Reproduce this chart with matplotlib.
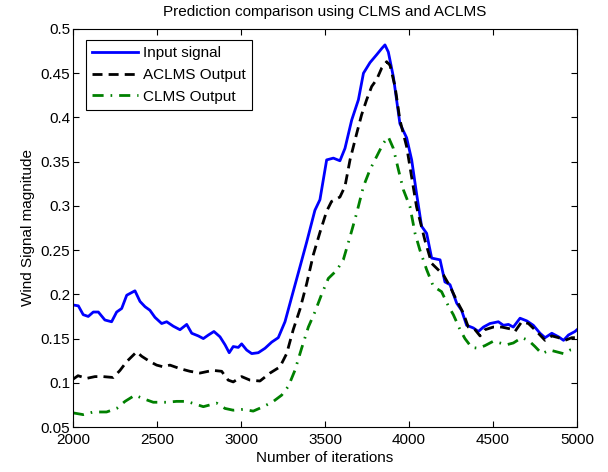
import matplotlib
matplotlib.use("Agg")
import numpy as np
from matplotlib import pyplot as plt

# values
input_x = [2000, 2032, 2061, 2091, 2121, 2151, 2190, 2230, 2260, 2290, 2320, 2369,
           2399, 2429, 2458, 2488, 2528, 2558, 2597, 2637, 2677, 2707, 2746, 2776,
           2806, 2839, 2875, 2905, 2930, 2954, 2984, 3004, 3034, 3064, 3103, 3143,
           3183, 3222, 3262, 3302, 3351, 3391, 3440, 3470, 3510, 3550, 3589, 3619,
           3659, 3699, 3729, 3768, 3808, 3838, 3857, 3877, 3907, 3946, 3986, 4016,
           4045, 4075, 4105, 4135, 4185, 4214, 4244, 4284, 4313, 4343, 4383, 4413,
           4443, 4482, 4532, 4562, 4592, 4621, 4661, 4701, 4740, 4780, 4810, 4850,
           4890, 4920, 4949, 4988, 5000]
input_y = [0.188, 0.187, 0.177, 0.175, 0.180, 0.180, 0.171, 0.169, 0.180, 0.184, 0.199, 0.204,
           0.192, 0.186, 0.182, 0.174, 0.167, 0.169, 0.164, 0.160, 0.166, 0.156, 0.153, 0.150,
           0.154, 0.158, 0.152, 0.143, 0.134, 0.141, 0.140, 0.144, 0.137, 0.133, 0.134, 0.139,
           0.146, 0.151, 0.169, 0.197, 0.231, 0.259, 0.295, 0.307, 0.352, 0.354, 0.351, 0.365,
           0.397, 0.420, 0.450, 0.462, 0.471, 0.478, 0.482, 0.474, 0.446, 0.393, 0.377, 0.352,
           0.314, 0.277, 0.269, 0.241, 0.239, 0.214, 0.211, 0.190, 0.182, 0.165, 0.162, 0.158,
           0.163, 0.167, 0.169, 0.165, 0.166, 0.163, 0.173, 0.170, 0.165, 0.156, 0.151, 0.156,
           0.152, 0.148, 0.154, 0.158, 0.160]

aclms_x = [2000, 2030, 2081, 2131, 2180, 2240, 2280, 2320, 2379, 2409, 2458, 2498,
           2538, 2577, 2637, 2696, 2756, 2806, 2835, 2885, 2924, 2954, 3004, 3054,
           3113, 3173, 3232, 3272, 3311, 3351, 3391, 3431, 3470, 3510, 3539, 3589,
           3619, 3649, 3689, 3718, 3748, 3778, 3808, 3838, 3867, 3887, 3917, 3946,
           3986, 4045, 4095, 4135, 4205, 4244, 4284, 4323, 4353, 4393, 4423, 4452,
           4502, 4552, 4601, 4631, 4671, 4711, 4760, 4810, 4850, 4890, 4929, 4969, 5000]
aclms_y = [0.104, 0.108, 0.105, 0.107, 0.107, 0.106, 0.114, 0.124, 0.135, 0.130, 0.124, 0.120,
           0.118, 0.120, 0.116, 0.113, 0.111, 0.113, 0.114, 0.113, 0.103, 0.101, 0.107, 0.103,
           0.102, 0.111, 0.118, 0.133, 0.160, 0.183, 0.212, 0.245, 0.270, 0.294, 0.305, 0.310,
           0.322, 0.352, 0.382, 0.403, 0.420, 0.435, 0.443, 0.456, 0.463, 0.459, 0.435, 0.397,
           0.367, 0.299, 0.261, 0.235, 0.222, 0.209, 0.193, 0.179, 0.163, 0.160, 0.153, 0.160,
           0.163, 0.163, 0.161, 0.158, 0.169, 0.167, 0.158, 0.148, 0.153, 0.151, 0.148, 0.151, 0.151]

clms_x = [2000, 2061, 2121, 2200, 2260, 2310, 2369, 2419, 2478, 2558, 2617, 2677,
          2776, 2855, 2905, 2954, 3014, 3073, 3133, 3193, 3242, 3282, 3321, 3361,
          3401, 3440, 3480, 3520, 3569, 3609, 3649, 3689, 3729, 3768, 3808, 3848,
          3877, 3907, 3937, 3967, 4006, 4036, 4065, 4105, 4145, 4194, 4234, 4264,
          4304, 4333, 4373, 4413, 4452, 4502, 4542, 4581, 4621, 4671, 4711, 4750,
          4790, 4839, 4879, 4919, 4958, 5000]
clms_y = [0.066, 0.064, 0.067, 0.067, 0.071, 0.079, 0.086, 0.082, 0.078, 0.078, 0.079, 0.079,
          0.073, 0.077, 0.071, 0.069, 0.070, 0.068, 0.073, 0.079, 0.086, 0.096, 0.114, 0.139,
          0.163, 0.180, 0.200, 0.218, 0.227, 0.239, 0.265, 0.292, 0.322, 0.341, 0.356, 0.371,
          0.378, 0.365, 0.341, 0.318, 0.299, 0.269, 0.250, 0.228, 0.209, 0.203, 0.187, 0.177,
          0.160, 0.150, 0.140, 0.139, 0.142, 0.147, 0.145, 0.143, 0.145, 0.151, 0.148, 0.141,
          0.133, 0.137, 0.135, 0.133, 0.137, 0.138]

plt.rcParams["font.family"] = ["Liberation Sans", "DejaVu Sans"]
plt.rcParams["font.size"] = 11

fig = plt.figure(figsize=(6.08, 4.72), dpi=100)
ax = fig.add_axes([0.120, 0.0953, 0.829, 0.8433])

ax.plot(input_x, input_y, color=(0, 0, 1), lw=2, label="Input signal")
ax.plot(aclms_x, aclms_y, color="k", lw=2, dashes=(3.6, 2.2), label="ACLMS Output")
ax.plot(clms_x, clms_y, color=(0, 0.5, 0), lw=2, dashes=(4, 2.5, 0.6, 2.5), label="CLMS Output")

ax.set_xlim(2000, 5000)
ax.set_ylim(0.05, 0.5)
ax.set_xticks(np.arange(2000, 5001, 500))
ax.set_yticks(np.arange(0.05, 0.501, 0.05))
ax.set_yticklabels(["0.05", "0.1", "0.15", "0.2", "0.25", "0.3", "0.35", "0.4", "0.45", "0.5"])
ax.tick_params(direction="in", top=True, right=True, length=4, labelsize=11)
ax.tick_params(axis="y", pad=2)
ax.tick_params(axis="x", pad=4)
for sp in ax.spines.values():
    sp.set_linewidth(0.8)

ax.set_title("Prediction comparison using CLMS and ACLMS", fontsize=11, pad=9)
ax.set_xlabel("Number of iterations", labelpad=3)
ax.set_ylabel("Wind Signal magnitude", labelpad=4)

leg = ax.legend(loc="upper left", bbox_to_anchor=(0.026, 0.972), borderaxespad=0,
                fancybox=False, framealpha=1, edgecolor="k", handlelength=3.0,
                borderpad=0.4, labelspacing=0.5, handletextpad=0.35)
leg.get_frame().set_linewidth(0.8)

fig.savefig("out.png", dpi=100, facecolor="w")
